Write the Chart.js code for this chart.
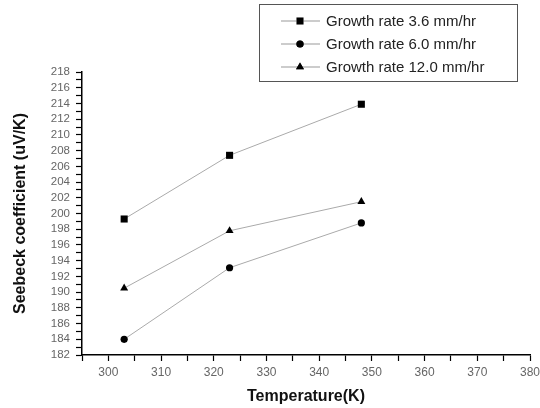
<!DOCTYPE html>
<html>
<head>
<meta charset="utf-8">
<script src="https://cdn.jsdelivr.net/npm/chart.js@4/dist/chart.umd.min.js"></script>
<style>
  html, body { margin: 0; padding: 0; background: #fff; }
  #wrap { width: 540px; height: 408px; }
</style>
</head>
<body>
<div id="wrap"><canvas id="chart"></canvas></div>
<script>
const temps = [303, 323, 348];
const rate36 = [199.3, 207.4, 213.9];
const rate60 = [184.0, 193.1, 198.8];
const rate120 = [190.5, 197.8, 201.5];
const seriesNames = ["Growth rate 3.6 mm/hr", "Growth rate 6.0 mm/hr", "Growth rate 12.0 mm/hr"];
const seriesMarks = ["rect", "circle", "triangle"];

function toPoints(vals)
{
    return temps.map((t, i) => ({ x: t, y: vals[i] }));
}

// legend box drawn by hand so it can sit over the plot like the original
const boxLegend = {
    id: "boxLegend",
    afterDraw(chart)
    {
        const ctx = chart.ctx;
        const left = 259.5, top = 4.5, w = 258, h = 77;
        ctx.save();
        ctx.fillStyle = "#fff";
        ctx.fillRect(left, top, w, h);
        ctx.strokeStyle = "#555";
        ctx.lineWidth = 1;
        ctx.strokeRect(left, top, w, h);
        ctx.font = "15px 'Liberation Sans', Arial, sans-serif";
        ctx.textBaseline = "middle";
        chart.data.datasets.forEach((ds, i) => {
            const y = 21 + i * 23;
            ctx.strokeStyle = "#999";
            ctx.beginPath();
            ctx.moveTo(281, y);
            ctx.lineTo(320, y);
            ctx.stroke();
            Chart.helpers.drawPoint(ctx, {
                pointStyle: ds.pointStyle,
                radius: ds.pointRadius,
                borderWidth: 0
            }, 300, y);
            ctx.fillStyle = "#000";
            ctx.fill();
            ctx.fillStyle = "#222";
            ctx.fillText(ds.label, 326, y + 1);
        });
        ctx.restore();
    }
};

const radii = [5, 3.6, 4.6];
const sets = [rate36, rate60, rate120].map((vals, i) => ({
    label: seriesNames[i],
    data: toPoints(vals),
    borderColor: "#aaa",
    borderWidth: 1,
    pointStyle: seriesMarks[i],
    pointRadius: radii[i],
    pointBackgroundColor: "#000",
    pointBorderColor: "#000",
    pointBorderWidth: 0,
    tension: 0
}));

const tickFont = { family: "'Liberation Sans', Arial, sans-serif", size: 11.5 };
const titleFont = { family: "'Liberation Sans', Arial, sans-serif", size: 16, weight: "bold" };

new Chart(document.getElementById("chart"), {
    type: "line",
    data: { datasets: sets },
    options: {
        responsive: true,
        maintainAspectRatio: false,
        animation: false,
        layout: { padding: { left: 0, right: 0, top: 72, bottom: 0 } },
        plugins: {
            legend: { display: false },
            tooltip: { enabled: false }
        },
        scales: {
            x: {
                type: "linear",
                min: 295,
                max: 380,
                afterFit(scale) { scale.height = 53; scale.paddingRight = 10; },
                border: { color: "#000", width: 1.5 },
                grid: {
                    drawOnChartArea: false,
                    tickLength: 6,
                    tickColor: "#000",
                    tickWidth: 1.2
                },
                ticks: {
                    stepSize: 5,
                    autoSkip: false,
                    maxRotation: 0,
                    padding: 4,
                    color: "#666",
                    font: { family: "'Liberation Sans', Arial, sans-serif", size: 12 },
                    callback: v => (v % 10 === 0 ? v : "")
                },
                title: {
                    display: true,
                    text: "Temperature(K)",
                    color: "#111",
                    font: titleFont,
                    padding: { top: 0, bottom: 2 }
                }
            },
            y: {
                min: 182,
                max: 218,
                afterFit(scale) { scale.width = 82; },
                border: { color: "#000", width: 1.5 },
                grid: {
                    drawOnChartArea: false,
                    tickLength: 6,
                    tickColor: "#000",
                    tickWidth: 1.2
                },
                ticks: {
                    stepSize: 1,
                    autoSkip: false,
                    padding: 6,
                    color: "#666",
                    font: tickFont,
                    callback: v => (v % 2 === 0 ? v : "")
                },
                title: {
                    display: true,
                    text: "Seebeck coefficient (uV/K)",
                    color: "#111",
                    font: titleFont,
                    padding: { top: 11, bottom: 0 }
                }
            }
        }
    },
    plugins: [boxLegend]
});
</script>
</body>
</html>
